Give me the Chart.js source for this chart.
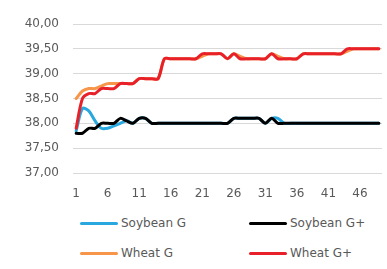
<!DOCTYPE html>
<html>
<head>
<meta charset="utf-8">
<script src="https://cdn.jsdelivr.net/npm/chart.js@4/dist/chart.umd.min.js"></script>
<style>
  html, body { margin: 0; padding: 0; background: #fff; }
  #wrap { position: relative; width: 387px; height: 269px; font-family: "DejaVu Sans", sans-serif; }
  #myChart { position: absolute; left: 0; top: 0; }
  .item { position: absolute; font-size: 12px; color: #595959; line-height: 14px; height: 14px; }
  .item .swatch { position: absolute; left: 0; top: 6px; width: 38px; height: 3px; border-radius: 1.5px; }
  .item .label { position: absolute; left: 41px; top: 0; white-space: nowrap; }
</style>
</head>
<body>
<div id="wrap">
  <canvas id="myChart" width="387" height="210"></canvas>
  <div id="legend"></div>
</div>
<script>
// categories 1..49
const categories = Array.from({ length: 49 }, (_, i) => String(i + 1));
const tickEvery = 5;

const seriesNames = ['Soybean G', 'Soybean G+', 'Wheat G', 'Wheat G+'];
const seriesColors = ['#29A8E0', '#000000', '#F7964A', '#E8202A'];

const soybeanG = [
  37.85, 38.30, 38.25, 38.05, 37.90, 37.90, 37.95, 38.00, 38.05, 38.00,
  38.10, 38.10, 38.00, 38.00, 38.00, 38.00, 38.00, 38.00, 38.00, 38.00,
  38.00, 38.00, 38.00, 38.00, 38.00, 38.10, 38.10, 38.10, 38.10, 38.10,
  38.00, 38.10, 38.10, 38.00, 38.00, 38.00, 38.00, 38.00, 38.00, 38.00,
  38.00, 38.00, 38.00, 38.00, 38.00, 38.00, 38.00, 38.00, 38.00
];
const soybeanGPlus = [
  37.80, 37.80, 37.90, 37.90, 38.00, 38.00, 38.00, 38.10, 38.05, 38.00,
  38.10, 38.10, 38.00, 38.00, 38.00, 38.00, 38.00, 38.00, 38.00, 38.00,
  38.00, 38.00, 38.00, 38.00, 38.00, 38.10, 38.10, 38.10, 38.10, 38.10,
  38.00, 38.10, 38.00, 38.00, 38.00, 38.00, 38.00, 38.00, 38.00, 38.00,
  38.00, 38.00, 38.00, 38.00, 38.00, 38.00, 38.00, 38.00, 38.00
];
const wheatG = [
  38.50, 38.65, 38.70, 38.70, 38.75, 38.80, 38.80, 38.80, 38.80, 38.80,
  38.90, 38.90, 38.90, 38.90, 39.30, 39.30, 39.30, 39.30, 39.30, 39.30,
  39.35, 39.40, 39.40, 39.40, 39.30, 39.40, 39.35, 39.30, 39.30, 39.30,
  39.30, 39.40, 39.35, 39.30, 39.30, 39.30, 39.40, 39.40, 39.40, 39.40,
  39.40, 39.40, 39.40, 39.45, 39.50, 39.50, 39.50, 39.50, 39.50
];
const wheatGPlus = [
  37.90, 38.50, 38.60, 38.60, 38.70, 38.70, 38.70, 38.80, 38.80, 38.80,
  38.90, 38.90, 38.90, 38.90, 39.30, 39.30, 39.30, 39.30, 39.30, 39.30,
  39.40, 39.40, 39.40, 39.40, 39.30, 39.40, 39.30, 39.30, 39.30, 39.30,
  39.30, 39.40, 39.30, 39.30, 39.30, 39.30, 39.40, 39.40, 39.40, 39.40,
  39.40, 39.40, 39.40, 39.50, 39.50, 39.50, 39.50, 39.50, 39.50
];
const seriesData = [soybeanG, soybeanGPlus, wheatG, wheatGPlus];

const yMin = 37, yMax = 40, yStep = 0.5;

// html legend, 2 x 2 like the excel one
const legendPos = [[80, 216], [249, 216], [80, 246], [249, 246]];
const legendEl = document.getElementById('legend');
seriesNames.forEach((name, i) => {
  const item = document.createElement('div');
  item.className = 'item';
  item.style.left = legendPos[i][0] + 'px';
  item.style.top = legendPos[i][1] + 'px';
  item.innerHTML = '<span class="swatch" style="background:' + seriesColors[i] + '"></span><span class="label">' + name + '</span>';
  legendEl.appendChild(item);
});

Chart.defaults.font.family = '"DejaVu Sans", sans-serif';
Chart.defaults.font.size = 12;
Chart.defaults.color = '#595959';

const ctx = document.getElementById('myChart').getContext('2d');
const myChart = new Chart(ctx, {
  type: 'line',
  data: {
    labels: categories,
    datasets: seriesNames.map((name, i) => ({
      label: name,
      data: seriesData[i],
      borderColor: seriesColors[i],
      backgroundColor: seriesColors[i],
      borderWidth: 3,
      borderJoinStyle: 'round',
      borderCapStyle: 'round',
      pointRadius: 0,
      tension: 0.3,
      order: seriesNames.length - i // last series on top, like excel
    }))
  },
  options: {
    responsive: false,
    animation: false,
    layout: { padding: { top: 24, right: 5, left: 0, bottom: 8 } },
    plugins: {
      legend: { display: false },
      tooltip: { enabled: false }
    },
    scales: {
      x: {
        offset: true,
        afterFit: (scale) => { scale.height = 29; },
        grid: { display: false, drawTicks: false },
        border: { display: false },
        ticks: {
          autoSkip: false,
          maxRotation: 0,
          minRotation: 0,
          padding: 14,
          callback: (val, idx) => idx % tickEvery === 0 ? categories[idx] : null
        }
      },
      y: {
        min: yMin,
        max: yMax,
        afterFit: (scale) => { scale.width = 73; },
        grid: { color: '#D9D9D9', lineWidth: 1, drawTicks: false },
        border: { display: false },
        ticks: {
          stepSize: yStep,
          padding: 14,
          callback: (v) => v.toFixed(2).replace('.', ',')
        }
      }
    }
  }
});
</script>
</body>
</html>
